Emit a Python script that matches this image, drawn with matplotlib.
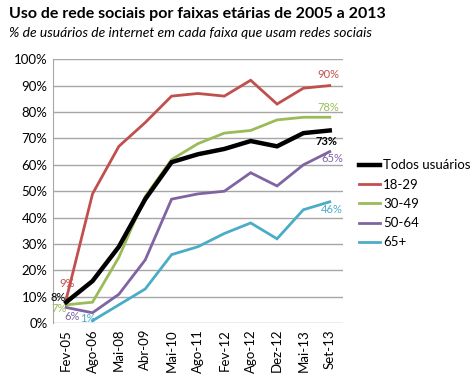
import numpy as np
import matplotlib
matplotlib.use("Agg")
import matplotlib.pyplot as plt

plt.rcParams['font.family'] = ['Lato', 'DejaVu Sans']

categories = ["Fev-05", "Ago-06", "Mai-08", "Abr-09", "Mai-10", "Ago-11",
              "Fev-12", "Ago-12", "Dez-12", "Mai-13", "Set-13"]
todos = [8, 16, 29, 47, 61, 64, 66, 69, 67, 72, 73]
g18_29 = [9, 49, 67, 76, 86, 87, 86, 92, 83, 89, 90]
g30_49 = [7, 8, 25, 48, 62, 68, 72, 73, 77, 78, 78]
g50_64 = [6, 4, 11, 24, 47, 49, 50, 57, 52, 60, 65]
g65 = [np.nan, 1, 7, 13, 26, 29, 34, 38, 32, 43, 46]
series_names = ["Todos usuários", "18-29", "30-49", "50-64", "65+"]
yticks = [0, 10, 20, 30, 40, 50, 60, 70, 80, 90, 100]

colors = ["#000000", "#C0504D", "#9BBB59", "#8064A2", "#4BACC6"]
widths = [3.2, 2.0, 2.0, 2.0, 2.0]
data = [todos, g18_29, g30_49, g50_64, g65]

fig = plt.figure(figsize=(4.73, 3.84), dpi=100)
ax = fig.add_axes([0.112, 0.158, 0.613, 0.688])
x = np.arange(len(categories))

order = [1, 2, 3, 4, 0]
lines = {}
for i in order:
    ln, = ax.plot(x, data[i], color=colors[i], lw=widths[i], label=series_names[i],
                  solid_joinstyle='miter', zorder=3 if i == 0 else 2)
    lines[i] = ln

ax.set_xlim(-0.5, len(categories) - 0.5)
ax.set_ylim(0, 100)
ax.set_yticks(yticks)
ax.set_yticklabels([f"{v}%" for v in yticks], fontsize=9.5)
ax.set_xticks(x)
ax.set_xticklabels(categories, rotation=90, fontsize=9.5)
ax.yaxis.grid(True, color="#a6a6a6", lw=1.0)
ax.set_axisbelow(True)
for s in ["top", "right", "bottom"]:
    ax.spines[s].set_visible(False)
ax.spines["left"].set_color("#a6a6a6")
ax.tick_params(axis="both", length=0, pad=4)

fs = 8
kw = dict(fontsize=fs, ha="center", va="center", zorder=4)
# start labels
ax.text(0.04, 15.0, f"{g18_29[0]}%", color=colors[1], **kw)
ax.text(-0.30, 9.6, f"{todos[0]}%", color=colors[0], **kw)
ax.text(-0.26, 5.5, f"{g30_49[0]}%", color=colors[2], **kw)
ax.text(0.22, 2.6, f"{g50_64[0]}%", color=colors[3], **kw)
ax.text(0.82, 1.7, f"{g65[1]}%", color=colors[4], **kw)
# end labels
ax.text(9.96, 94.2, f"{g18_29[-1]}%", color=colors[1], **kw)
ax.text(9.96, 81.7, f"{g30_49[-1]}%", color=colors[2], **kw)
ax.text(9.89, 68.9, f"{todos[-1]}%", color=colors[0], fontweight="bold", **kw)
ax.text(10.08, 62.4, f"{g50_64[-1]}%", color=colors[3], **kw)
ax.text(10.08, 43.2, f"{g65[-1]}%", color=colors[4], **kw)

handles = [lines[i] for i in range(5)]
fig.legend(handles, series_names, loc="upper left", bbox_to_anchor=(0.758, 0.585),
           frameon=False, fontsize=9.5, handlelength=1.6, handletextpad=0.25,
           labelspacing=0.55, borderaxespad=0, borderpad=0)

fig.text(0.02, 0.963, "Uso de rede sociais por faixas etárias de 2005 a 2013",
         fontsize=11.5, fontweight="bold", ha="left", va="center")
fig.text(0.02, 0.915, "% de usuários de internet em cada faixa que usam redes sociais",
         fontsize=10, style="italic", ha="left", va="center")

fig.savefig("out.png", dpi=100)
